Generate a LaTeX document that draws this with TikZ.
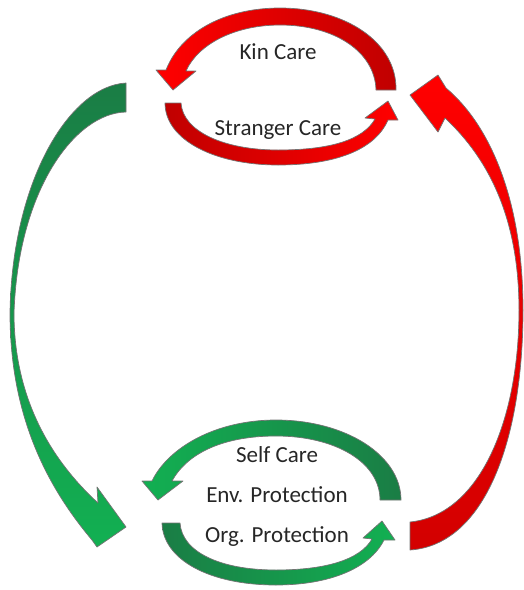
\documentclass[tikz,border=0pt]{standalone}
\usepackage{fontspec}
\setmainfont{Carlito}
\usetikzlibrary{positioning}

\definecolor{careRed}{HTML}{FF0000}
\definecolor{careDarkRed}{HTML}{C00000}
\definecolor{careGreen}{HTML}{12B052}
\definecolor{careDarkGreen}{HTML}{1A7D45}

\tikzset{
	label/.style={font=\fontsize{11.5}{13}\selectfont, text=black!85, inner sep=1pt},
	band/.style={draw=black!55, line width=0.35pt, line join=round}
}

\begin{document}
\begin{tikzpicture}[x=0.5pt, y=-0.5pt, node distance=9.5pt]
	\useasboundingbox (0,0) rectangle (524,590);
	
	% upper cycle
	\shade[band, left color=careRed, right color=careDarkRed]
		(396,90) .. controls (397,42) and (345,8) .. (280,8)
		.. controls (222,8) and (180,34) .. (166,70)
		-- (156,70) -- (173,90) -- (196,71) -- (186,71)
		.. controls (198,44) and (235,25) .. (280,25)
		.. controls (335,25) and (375,52) .. (376,90) -- cycle;
	\shade[band, left color=careDarkRed, right color=careRed]
		(165,103) .. controls (165,140) and (215,165) .. (278,165)
		.. controls (335,165) and (375,150) .. (388,120)
		-- (398,120) -- (388,101) -- (365,118) -- (375,119)
		.. controls (363,140) and (330,150) .. (278,150)
		.. controls (225,150) and (183,132) .. (181,103) -- cycle;
	
	\node[label] (kin) at (278,52) {Kin Care};
	\node[label, below=28pt of kin] (stranger) {Stranger Care};
	
	% lower cycle
	\shade[band, left color=careGreen, right color=careDarkGreen]
		(401,500) .. controls (401,455) and (345,420) .. (276,420)
		.. controls (215,420) and (168,448) .. (152,481)
		-- (142,481) -- (158,500) -- (183,481) -- (172,481)
		.. controls (188,452) and (225,436) .. (276,436)
		.. controls (335,436) and (380,462) .. (380,500) -- cycle;
	\shade[band, left color=careDarkGreen, right color=careGreen]
		(162,523) .. controls (163,560) and (210,585) .. (276,585)
		.. controls (330,585) and (370,568) .. (384,540)
		-- (395,540) -- (382,521) -- (363,538) -- (372,539)
		.. controls (360,560) and (325,570) .. (276,570)
		.. controls (220,570) and (182,552) .. (180,523) -- cycle;
	
	\node[label] (self) at (277,455) {Self Care};
	\node[label, below=of self] (env) {Env. Protection};
	\node[label, below=of env] (org) {Org. Protection};
	
	% links between the cycles
	\shade[band, top color=careDarkGreen, bottom color=careGreen]
		(126,83) .. controls (70,86) and (12,180) .. (10,313)
		.. controls (10,420) and (50,490) .. (92,540)
		-- (97,547) -- (126,527) -- (97,487) -- (98,503)
		.. controls (62,470) and (14,410) .. (14,313)
		.. controls (18,190) and (75,113) .. (126,112) -- cycle;
	\shade[band, top color=careRed, bottom color=careDarkRed!70!careRed]
		(410,550) .. controls (485,545) and (523,440) .. (523,310)
		.. controls (523,200) and (490,125) .. (446,88)
		-- (438,75) -- (410,95) -- (438,132) -- (445,118)
		.. controls (490,160) and (519,220) .. (519,310)
		.. controls (519,420) and (480,515) .. (410,522) -- cycle;
	
\end{tikzpicture}
\end{document}
